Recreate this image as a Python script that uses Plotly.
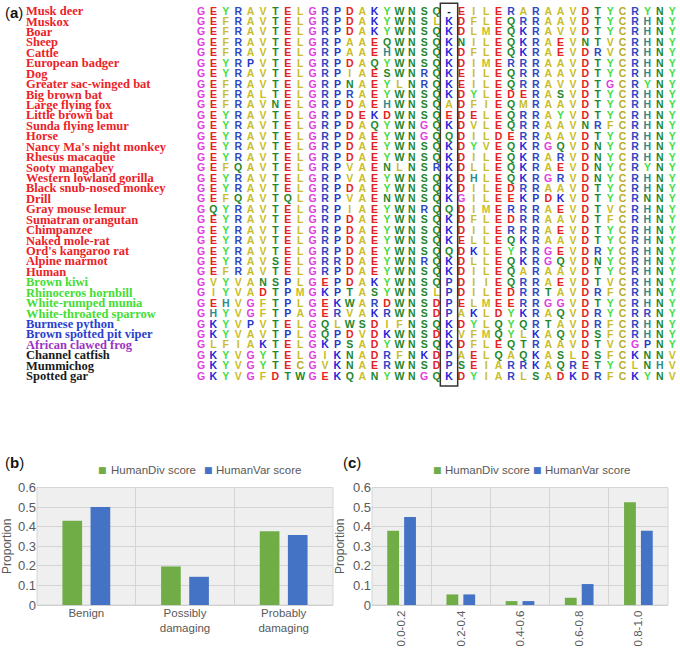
import plotly.graph_objects as go

# ---------------- Data ----------------
species = [
    "Musk deer", "Muskox", "Boar", "Sheep", "Cattle", "European badger", "Dog",
    "Greater sac-winged bat", "Big brown bat", "Large flying fox", "Little brown bat",
    "Sunda flying lemur", "Horse", "Nancy Ma's night monkey", "Rhesus macaque",
    "Sooty mangabey", "Western lowland gorilla", "Black snub-nosed monkey", "Drill",
    "Gray mouse lemur", "Sumatran orangutan", "Chimpanzee", "Naked mole-rat",
    "Ord's kangaroo rat", "Alpine marmot", "Human",
    "Brown kiwi", "Rhinoceros hornbill", "White-rumped munia", "White-throated sparrow",
    "Burmese python", "Brown spotted pit viper",
    "African clawed frog",
    "Channel catfish", "Mummichog", "Spotted gar",
]
species_group = (["mammal"] * 26 + ["bird"] * 4 + ["reptile"] * 2 +
                 ["amphibian"] + ["fish"] * 3)

sequences = [
    "GEYRAVTELGRPDAKYWNSQ-EILERARAAVDTYCRYNY",
    "GEFRAVTELGRPDAKYWNSLKDFLEQRRAAVDTYCRHNY",
    "GEFRAVTELGRPDAKYWNSQKDLMEQKRAVVDTYCRHNY",
    "GEFRAVTELGRPAAEQWNSQKNILEQKRAEVNTVCRHNY",
    "GEFRAVTELGRPAAEHWNSQKDFLEQKRAEVDRVCRHNY",
    "GEYRPVTELGRPDAQYWNSQKDIMERRRAAVDTYCRHNY",
    "GEYRAVTELGRPIAESWNRQKEILEQRRAAVDTYCRHNY",
    "GEFRAVTELGRPNAEYLNRQKEILEQRRAVVDTGCRYNY",
    "GEFRALTELGRPRAEYWNSQKDYLEDERASVDTYCRHNY",
    "GEFRAVNELGRPDAEHWNSQADFIEQMRAAVDTYCRHNY",
    "GEYRAVTELGRPDEKDWNSQEDELEQRRAYVDTYCRHNY",
    "GEYRAVTELGRPDAQYWNGQKDVLEQRRAAVNRFCRHNY",
    "GEYRAVTELGRPDAEYWNGQQDILDERRAAVDTYCRHNY",
    "GEYRAVTELGRPDAEYWNSQKDYVEQKRGQVDNYCRHNY",
    "GEYRAVTELGRPDAEYWNSQKDILEQKRARVDNYCRHNY",
    "GEFQAVTELGRPVAENLNSRKDLLEQKRAEVDNYCRYNY",
    "GEYRAVTELGRPVAEYWNSQKDHLEQKRGRVDNYCRHNY",
    "GEYRAVTELGRPDAEYWNSQKDILEDRRAAVDTYCRHNY",
    "GEFQAVTQLGRPVAENWNSQKGILEEKPDKVDTYCRNNY",
    "GQYRAVTELGRPIAEYWNRQQDIMERRRAEVDTVCRHNY",
    "GEYRAVTELGRPDAEYWNSQKDFLEDRRAAVDTFCRHNY",
    "GEYRAVTELGRPDAEYWNSQKDILERRRAEVDTYCRHNY",
    "GEYRAVTELGRPDAEYWNSQKELLEQKRAAVDTYCRHNY",
    "GEYRAVTELGRPDAEYWNSQQDKLEYRRGEVDRYCRHNY",
    "GEYRAVSELGRRDAEYWNRQKDLLEQKRGQVDNYCRHNY",
    "GEFRAVTELGRPDAEYWNSQKDILEQARAAVDTYCRHNY",
    "GVYVANSPLGEPDAKYWNSQPDIIEQRRAEVDTVCRHNY",
    "GIYVADTPMGKPTASYWNSLPDILEDRRTAVDRFCRHNY",
    "GEHVGFTPLGEKWARDWNSDPELMEERRGGVDTYCRHNY",
    "GHYVGFTPAGERVAKRWNSDPAKLDYKRAQVDRYCRRNY",
    "GKYVPVTELGQLWSDIFNSQKDYLQYQRTAVDRFCRHNY",
    "GKYVAVTPLGQPDVDKWNSDKVFMQYLKAQVDSFCRHNY",
    "GLFIAKTELGKPSADYWNSQKDFLEQTRAAVDTVCGPNY",
    "GKYVGYTELGIKNADRFNKDPAELQAQKASLDSFCKNNV",
    "GKYVGYTECGVKNAERWNSDPSEIARRKAQRETYCLNHV",
    "GKYVGFDTWGEKQANYWNGQKDYIARLSADKDRFCKYNV",
]
highlight_col = 20  # boxed alignment column (0-based)

series_names = ["HumanDiv score", "HumanVar score"]

b_categories = ["Benign", "Possibly<br>damaging", "Probably<br>damaging"]
b_humandiv = [0.43, 0.197, 0.377]
b_humanvar = [0.50, 0.144, 0.358]

c_categories = ["0.0-0.2", "0.2-0.4", "0.4-0.6", "0.6-0.8", "0.8-1.0"]
c_humandiv = [0.379, 0.054, 0.020, 0.037, 0.525]
c_humanvar = [0.450, 0.054, 0.020, 0.107, 0.379]

# ---------------- Styles ----------------
W, H = 680, 651
group_color = {"mammal": "#ec2228", "bird": "#44dd33", "reptile": "#2a3fcf",
               "amphibian": "#9b34c4", "fish": "#1a1a1a"}
aa_color = {
    "G": "#e03ee0", "D": "#e42222", "E": "#e42222",
    "R": "#2f47c4", "K": "#2424d8", "P": "#2638c8",
    "T": "#23862a", "S": "#23862a", "N": "#23862a", "Q": "#23862a", "W": "#23862a",
    "Y": "#44dd44", "H": "#2a8c8c",
    "A": "#c9bd2a", "V": "#c9bd2a", "L": "#c9bd2a", "I": "#c9bd2a",
    "M": "#c9bd2a", "F": "#c9bd2a", "C": "#b8ac24",
    "-": "#111111",
}
GREEN, BLUE = "#70ad47", "#4472c4"
GRAYTXT = "#595959"

fig = go.Figure()

# ---------------- Panel (a): alignment ----------------
xs, ys, txt, cols = [], [], [], []
for r, seq in enumerate(sequences):
    for c, ch in enumerate(seq):
        xs.append(c)
        ys.append(r)
        txt.append(ch)
        cols.append(aa_color.get(ch, "#111111"))

fig.add_trace(go.Scatter(
    x=xs, y=ys, text=txt, mode="text", textposition="middle center",
    textfont=dict(family="Liberation Sans", size=10.5, color=cols, weight="bold"),
    xaxis="x", yaxis="y", showlegend=False, hoverinfo="skip"))

px_col0, px_step = 201.0, 12.4
name_x = (26.0 - px_col0) / px_step
fig.add_trace(go.Scatter(
    x=[name_x] * len(species), y=list(range(len(species))), text=species,
    mode="text", textposition="middle right",
    textfont=dict(family="Liberation Serif", size=12.5,
                  color=[group_color[g] for g in species_group], weight="bold"),
    xaxis="x", yaxis="y", showlegend=False, hoverinfo="skip"))

x0r = -px_col0 / px_step
row0, row_step = 12.0, 10.43
top_px = 390.0
fig.update_layout(
    xaxis=dict(domain=[0, 1], range=[x0r, x0r + W / px_step], visible=False,
               fixedrange=True, automargin=False),
    yaxis=dict(domain=[1 - top_px / H, 1],
               range=[(top_px - row0) / row_step, -row0 / row_step],
               visible=False, fixedrange=True, automargin=False),
)

shapes = [dict(type="rect", xref="x", yref="y",
               x0=highlight_col - 0.7, x1=highlight_col + 0.7,
               y0=-0.85, y1=len(sequences) - 1 + 0.85,
               line=dict(color="#333333", width=1.5))]

# ---------------- Panels (b) and (c): bar charts ----------------
yb0, yb1 = 1 - 605 / H, 1 - 487.5 / H
for cats, vals, xa, ya in ((b_categories, (b_humandiv, b_humanvar), "x2", "y2"),
                           (c_categories, (c_humandiv, c_humanvar), "x3", "y3")):
    for name, v, colr in zip(series_names, vals, (GREEN, BLUE)):
        fig.add_trace(go.Bar(x=cats, y=v, name=name, marker_color=colr,
                             marker_line_width=0, xaxis=xa, yaxis=ya,
                             showlegend=False))

tickfont = dict(family="Liberation Sans", size=11.5, color=GRAYTXT)
common_y = dict(range=[0, 0.6], dtick=0.1, showgrid=True, gridcolor="#d4d4d4",
                gridwidth=1, tickfont=dict(family="Liberation Sans", size=13, color=GRAYTXT),
                zeroline=False, showline=False,
                ticks="", fixedrange=True, automargin=False,
                title=dict(text="Proportion",
                           font=dict(family="Liberation Sans", size=12, color=GRAYTXT),
                           standoff=5))
common_x = dict(type="category", tickson="boundaries", showgrid=True,
                gridcolor="#d4d4d4", tickfont=tickfont, ticks="",
                showline=True, linecolor="#d0d0d0", fixedrange=True,
                automargin=False)

fig.update_layout(
    xaxis2=dict(domain=[37 / W, 333 / W], anchor="y2", ticklabelstandoff=-3,
                **common_x),
    yaxis2=dict(domain=[yb0, yb1], anchor="x2", **common_y),
    xaxis3=dict(domain=[372 / W, 668 / W], anchor="y3", tickangle=-90, **common_x),
    yaxis3=dict(domain=[yb0, yb1], anchor="x3", **common_y),
)

for xr, yr in (("x2", "y2"), ("x3", "y3")):
    shapes.append(dict(type="rect", xref=f"{xr} domain", yref=f"{yr} domain",
                       x0=0, x1=1, y0=0, y1=1, layer="below",
                       fillcolor="#efefef", line=dict(color="#d6d6d6", width=1)))

# ---------------- Annotations: panel labels and legend keys ----------------
ann_font = dict(family="Liberation Sans", size=15, color="#111111")
annotations = [
    dict(text="(<b>a</b>)", x=3 / W, y=1 - 12 / H, font=ann_font),
    dict(text="(<b>b</b>)", x=3 / W, y=1 - 462 / H, font=ann_font),
    dict(text="(<b>c</b>)", x=341 / W, y=1 - 462 / H, font=ann_font),
]
legend_y = 1 - 470 / H
legend_keys = [  # (square x px, series index)
    (103, 0), (208, 1), (437, 0), (537, 1),
]
for sx, si in legend_keys:
    annotations.append(dict(text="■", x=sx / W, y=legend_y, xanchor="center",
                            font=dict(family="DejaVu Sans", size=9,
                                      color=(GREEN, BLUE)[si])))
    annotations.append(dict(text=series_names[si], x=(sx + 6) / W, y=legend_y,
                            font=dict(family="Liberation Sans", size=11.5,
                                      color=GRAYTXT)))
for a in annotations:
    a.setdefault("xanchor", "left")
    a.update(xref="paper", yref="paper", yanchor="middle", showarrow=False)

fig.update_layout(
    width=W, height=H, margin=dict(l=0, r=0, t=0, b=0, autoexpand=False),
    paper_bgcolor="white", plot_bgcolor="rgba(0,0,0,0)",
    barmode="group", bargap=0.43, bargroupgap=0.3,
    shapes=shapes, annotations=annotations, showlegend=False,
)

fig.write_html("out.html", config={"displayModeBar": False},
               post_script="document.body.style.margin='0';"
                           "document.body.style.overflow='hidden';")
